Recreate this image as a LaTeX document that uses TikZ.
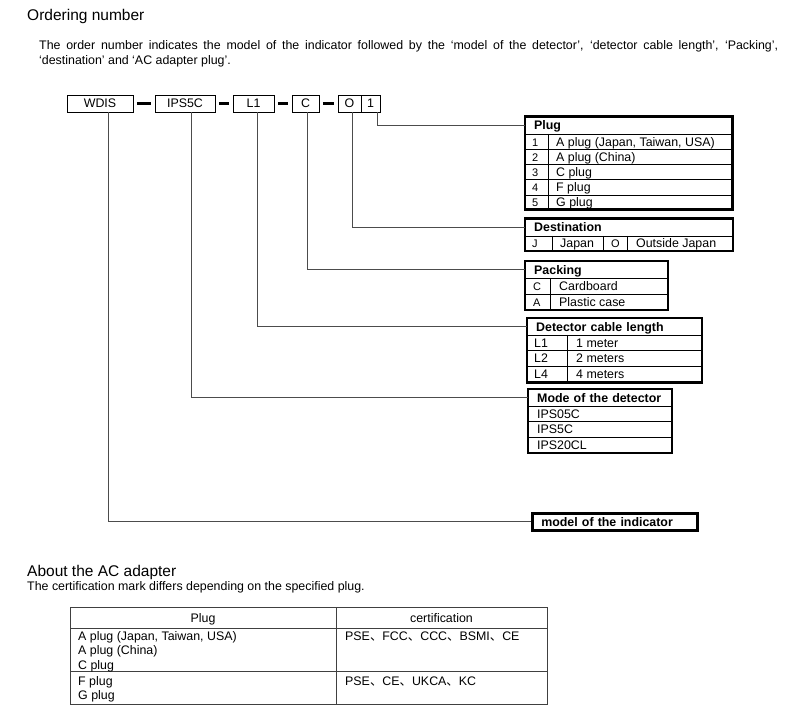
\documentclass[tikz,border=0pt]{standalone}
\usepackage{fontspec}
\setmainfont{Liberation Sans}
\newfontfamily\cjkf{Noto Sans CJK JP}
\newcommand\tabf{\fontsize{12.4}{15}\selectfont}
\newcommand\numf{\fontsize{11}{13}\selectfont}
\newcommand\icm{{\cjkf 、}}
\begin{document}
\begin{tikzpicture}[x=1pt,y=-1pt,
 codebox/.style={draw=black,line width=0.8pt,minimum height=17pt,inner sep=0pt,text height=9pt,text depth=0pt,font=\tabf},
 conn/.style={draw=black!70,line width=0.9pt},
 dashln/.style={line width=2.6pt,shorten <=3.5pt,shorten >=3.5pt},
 frame/.style={line width=2.6pt},
 rule/.style={line width=0.8pt},
 tbl/.style={line width=0.8pt,draw=black!75},
 hdr/.style={anchor=north west,inner xsep=9pt,inner ysep=0pt,align=left,font=\tabf\bfseries,minimum height=17pt,text height=9pt,text depth=0pt},
 cell/.style={anchor=base west,inner sep=0pt,font=\tabf},
 num/.style={anchor=base west,inner sep=0pt,font=\numf},
 ]
\useasboundingbox (0,0) rectangle (796,711);

% headings and paragraph
\node[anchor=base west,inner sep=0pt,font=\fontsize{15.5}{18}\selectfont] (t1) at (27,20.5) {Ordering number};
\node[cell] (p1) at (39,49.5) {\hbox to 739pt{The order number indicates the model of the indicator followed by the ‘model of the detector’, ‘detector cable length’, ‘Packing’,}};
\node[cell] (p2) at (39,64.5) {‘destination’ and ‘AC adapter plug’.};

% code boxes
\node[codebox,minimum width=66pt] (wdis) at (100,103.5) {WDIS};
\node[codebox,minimum width=60pt] (ips) at (185,103.5) {IPS5C};
\node[codebox,minimum width=41pt] (lone) at (253.5,103.5) {L1};
\node[codebox,minimum width=27pt] (cpk) at (305.5,103.5) {C};
\node[codebox,minimum width=23pt] (odst) at (349.5,103.5) {O};
\node[codebox,minimum width=19pt] (one) at (370.5,103.5) {1};
\draw[dashln] (wdis) -- (ips);
\draw[dashln] (ips) -- (lone);
\draw[dashln] (lone) -- (cpk);
\draw[dashln] (cpk) -- (odst);

% Plug table
\draw[frame] (525,116.5) rectangle (732.5,209.5);
\node[hdr,text width=189.5pt] (plug) at (525,116.5) {Plug};
\foreach \yy in {134,149.3,164.6,179.9,195.2} \draw[rule] (525,\yy) -- (732.5,\yy);
\draw[rule] (548,134) -- (548,209.5);
\node[num] (pn1) at (532,146.1) {1};
\node[num] (pn2) at (532,161.4) {2};
\node[num] (pn3) at (532,176.7) {3};
\node[num] (pn4) at (532,192) {4};
\node[num] (pn5) at (532,206.8) {5};
\node[cell] (pt1) at (556,146.1) {A plug (Japan, Taiwan, USA)};
\node[cell] (pt2) at (556,161.4) {A plug (China)};
\node[cell] (pt3) at (556,176.7) {C plug};
\node[cell] (pt4) at (556,192) {F plug};
\node[cell] (pt5) at (556,206.8) {G plug};

% Destination table
\draw[frame] (525,218.5) rectangle (733,251);
\node[hdr,text width=190pt] (dest) at (525,218.5) {Destination};
\draw[rule] (525,236) -- (733,236);
\foreach \xx in {552,603,627} \draw[rule] (\xx,236) -- (\xx,251);
\node[num] (dj) at (532,248) {J};
\node[cell] (djp) at (560,248) {Japan};
\node[num] (do) at (611,248) {O};
\node[cell] (dout) at (636,248) {Outside Japan};

% Packing table
\draw[frame] (525,261) rectangle (668,310);
\node[hdr,text width=125pt] (pack) at (525,261) {Packing};
\draw[rule] (525,278) -- (668,278);
\draw[rule] (525,294) -- (668,294);
\draw[rule] (550,278) -- (550,310);
\node[num] (kc) at (533,290.5) {C};
\node[num] (ka) at (533,306.5) {A};
\node[cell] (kct) at (559,290.5) {Cardboard};
\node[cell] (kat) at (559,306.5) {Plastic case};

% Detector cable length table
\draw[frame] (527,318) rectangle (702,382.5);
\node[hdr,text width=157pt] (cable) at (527,318) {Detector cable length};
\foreach \yy in {335,350.5,366.5} \draw[rule] (527,\yy) -- (702,\yy);
\draw[rule] (567,335) -- (567,382.5);
\node[cell] (c1) at (534,347.2) {L1};
\node[cell] (c2) at (534,363) {L2};
\node[cell] (c4) at (534,379) {L4};
\node[cell] (c1t) at (576,347.2) {1 meter};
\node[cell] (c2t) at (576,363) {2 meters};
\node[cell] (c4t) at (576,379) {4 meters};

% Mode of the detector table
\draw[frame] (528,389) rectangle (672,453);
\node[hdr,text width=126pt] (mode) at (528,389) {Mode of the detector};
\foreach \yy in {406,421.5,437} \draw[rule] (528,\yy) -- (672,\yy);
\node[cell] (m1) at (537,418.2) {IPS05C};
\node[cell] (m2) at (537,433.7) {IPS5C};
\node[cell] (m3) at (537,449.5) {IPS20CL};

% model of the indicator
\node[draw,line width=2.6pt,anchor=north west,minimum height=17pt,inner xsep=9pt,inner ysep=0pt,text width=147pt,text height=9pt,text depth=0pt,align=left,font=\tabf\bfseries] (ind) at (531,512) {model of the indicator};

% connectors
\draw[conn] ([xshift=8pt]wdis.south) |- (ind.west);
\draw[conn] ([xshift=6pt]ips.south) |- (mode.west);
\draw[conn] ([xshift=3.5pt]lone.south) |- (cable.west);
\draw[conn] ([xshift=1.5pt]cpk.south) |- (pack.west);
\draw[conn] ([xshift=2.5pt]odst.south) |- (dest.west);
\draw[conn] ([xshift=6.5pt]one.south) |- (plug.west);

% About the AC adapter
\node[anchor=base west,inner sep=0pt,font=\fontsize{15.5}{18}\selectfont] (t2) at (27,576) {About the AC adapter};
\node[cell] (p3) at (27,590) {The certification mark differs depending on the specified plug.};

\draw[tbl] (70,607) rectangle (547,704);
\draw[tbl] (70,628) -- (547,628);
\draw[tbl] (70,671) -- (547,671);
\draw[tbl] (336,607) -- (336,704);
\node[anchor=base,inner sep=0pt,font=\tabf] (h1) at (203,622) {Plug};
\node[anchor=base,inner sep=0pt,font=\tabf] (h2) at (441.5,622) {certification};
\node[cell] (r1) at (78,640.5) {A plug (Japan, Taiwan, USA)};
\node[cell] (r2) at (78,654.8) {A plug (China)};
\node[cell] (r3) at (78,669) {C plug};
\node[cell] (r4) at (78,685.5) {F plug};
\node[cell] (r5) at (78,699.5) {G plug};
\node[cell] (s1) at (345,640.5) {PSE\icm FCC\icm CCC\icm BSMI\icm CE};
\node[cell] (s2) at (345,685.5) {PSE\icm CE\icm UKCA\icm KC};
\end{tikzpicture}
\end{document}
